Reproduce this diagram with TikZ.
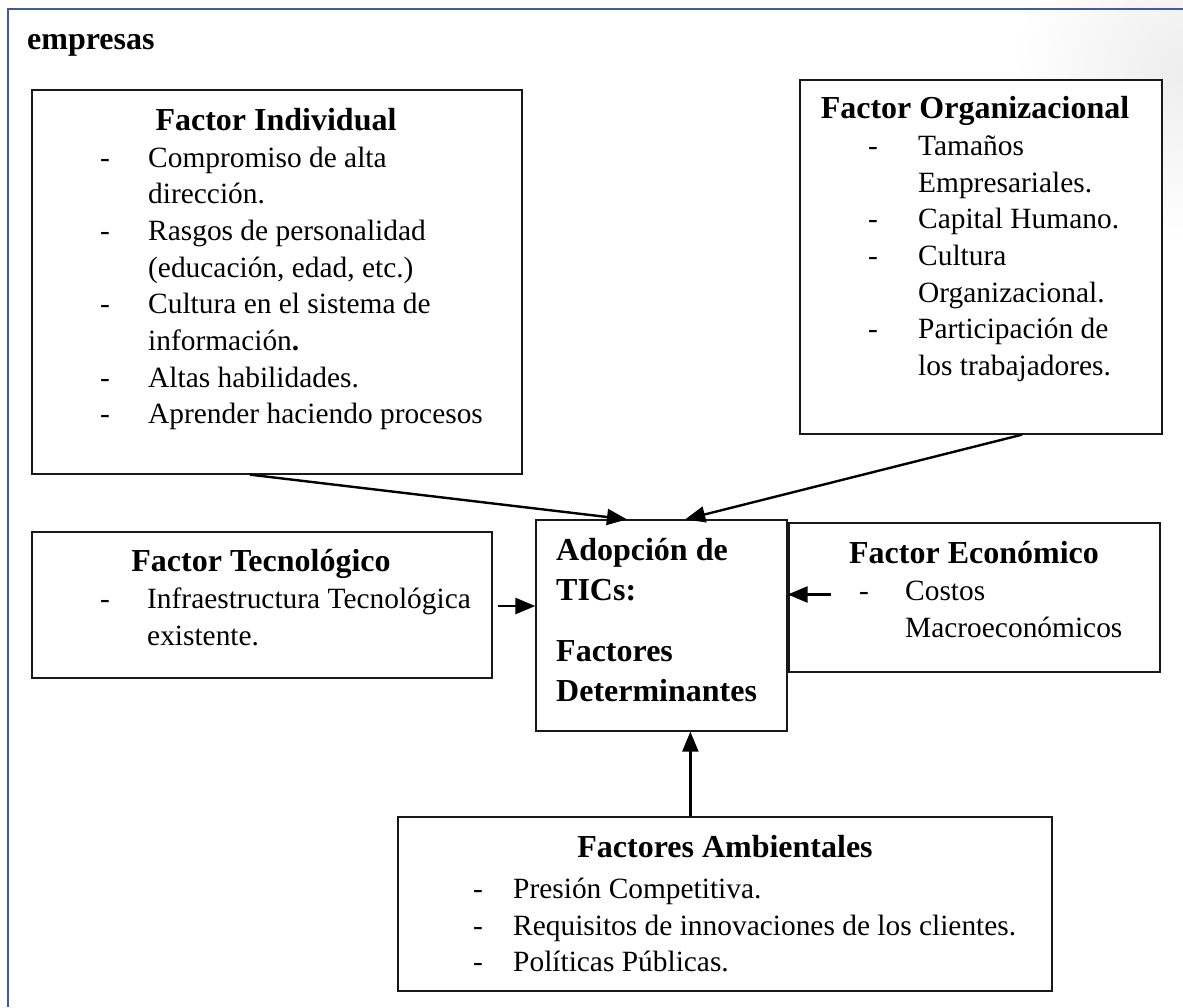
\documentclass[tikz,border=0pt]{standalone}
\usepackage{fontspec}
\setmainfont{Liberation Serif}
\usetikzlibrary{arrows.meta,calc}
\definecolor{frameblue}{RGB}{62,92,158}
\tikzset{
  box/.style={draw=black!90, line width=1.3pt, fill=white, rectangle, inner sep=0pt},
  ttl/.style={font=\fontsize{32}{38}\selectfont\bfseries, anchor=base, inner sep=0pt},
  ctr/.style={font=\fontsize{32}{38}\selectfont\bfseries, anchor=base west, inner sep=0pt},
  bodytxt/.style={font=\fontsize{29.4}{36}\selectfont, anchor=base west, inner sep=0pt},
  dashmark/.style={font=\fontsize{29.4}{36}\selectfont, anchor=base west, inner sep=0pt},
  conn/.style={line width=2.4pt, -{Triangle[length=20pt,width=16pt]}}
}
\begin{document}
\begin{tikzpicture}[x=1pt,y=-1pt]
\useasboundingbox (0,0) rectangle (1183,1007);
\fill[white] (0,0) rectangle (1183,1007);
\shade[inner color=black!7, outer color=white] (1183,70) circle (170);
% frame
\draw[frameblue, line width=2.6pt] (8,1007) -- (8,9) -- (1183,9);
\node[ctr] (emp) at (27,49) {empresas};

% boxes
\node[box, minimum width=490pt, minimum height=384pt] (ind) at (277,282) {};
\node[box, minimum width=362pt, minimum height=354pt] (org) at (981,257) {};
\node[box, minimum width=460pt, minimum height=146pt] (tec) at (262,605) {};
\node[box, minimum width=251pt, minimum height=211pt] (cen) at (661.5,625.5) {};
\node[box, minimum width=371pt, minimum height=149pt] (eco) at (974.5,597.5) {};
\node[box, minimum width=654pt, minimum height=174pt] (amb) at (725,904) {};

% Factor Individual
\node[ttl] (indT) at (276,130) {Factor Individual};
\foreach \y/\d/\t [count=\i] in {
  167/-/Compromiso de alta,
  203//dirección.,
  240/-/Rasgos de personalidad,
  277//{(educación, edad, etc.)},
  313/-/Cultura en el sistema de,
  350//información\textbf{.},
  387/-/Altas habilidades.,
  423/-/Aprender haciendo procesos}{
  \node[dashmark] (indD\i) at (100,\y) {\d};
  \node[bodytxt] (indL\i) at (148,\y) {\t};
}

% Factor Organizacional
\node[ttl] (orgT) at (975,118) {Factor Organizacional};
\foreach \y/\d/\t [count=\i] in {
  155/-/Tamaños,
  192//Empresariales.,
  228/-/Capital Humano.,
  265/-/Cultura,
  302//Organizacional.,
  338/-/Participación de,
  375//los trabajadores.}{
  \node[dashmark] (orgD\i) at (868,\y) {\d};
  \node[bodytxt] (orgL\i) at (918,\y) {\t};
}

% Factor Tecnologico
\node[ttl] (tecT) at (261,571) {Factor Tecnológico};
\node[dashmark] (tecD1) at (100,608) {-};
\node[bodytxt] (tecL1) at (147,608) {Infraestructura Tecnológica};
\node[bodytxt] (tecL2) at (147,645) {existente.};

% Factor Economico
\node[ttl] (ecoT) at (974,563) {Factor Económico};
\node[dashmark] (ecoD1) at (859,600) {-};
\node[bodytxt] (ecoL1) at (905,600) {Costos};
\node[bodytxt] (ecoL2) at (905,637) {Macroeconómicos};

% Centro
\node[ctr] (cenL1) at (556,560) {Adopción de};
\node[ctr] (cenL2) at (556,600) {TICs:};
\node[ctr] (cenL3) at (556,661) {Factores};
\node[ctr] (cenL4) at (556,701) {Determinantes};

% Factores Ambientales
\node[ttl] (ambT) at (725,857) {Factores Ambientales};
\foreach \y/\t [count=\i] in {
  898/Presión Competitiva.,
  935/Requisitos de innovaciones de los clientes.,
  971/Políticas Públicas.}{
  \node[dashmark] (ambD\i) at (473,\y) {-};
  \node[bodytxt] (ambL\i) at (513,\y) {\t};
}

% connectors
\coordinate (s1) at ($(ind.south west)!0.445!(ind.south east)$);
\coordinate (e1) at ($(cen.north west)!0.363!(cen.north east)$);
\draw[conn] (s1) -- (e1);
\coordinate (s2) at ($(org.south west)!0.613!(org.south east)$);
\coordinate (e2) at ($(cen.north west)!0.594!(cen.north east)$);
\draw[conn] (s2) -- (e2);
\coordinate (s3) at ($(tec.east)+(5,1)$);
\draw[conn] (s3) -- (cen.west |- s3);
\coordinate (s4) at ($(eco.west)+(43,-3)$);
\draw[conn] (s4) -- (cen.east |- s4);
\coordinate (s5) at ($(amb.north west)+(293,0)$);
\draw[conn] (s5) -- (s5 |- cen.south);
\end{tikzpicture}
\end{document}
